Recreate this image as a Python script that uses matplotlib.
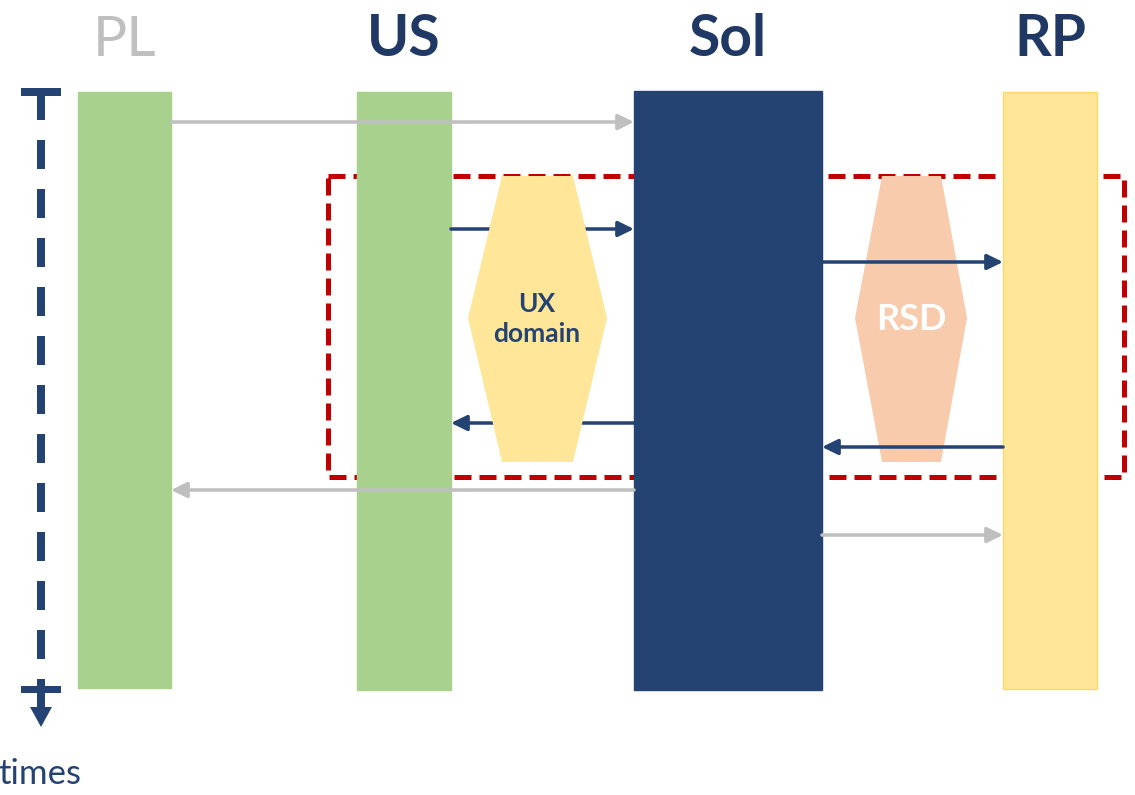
import matplotlib.pyplot as plt
from matplotlib.patches import Rectangle, Polygon

plt.rcParams['font.family'] = ['Lato', 'DejaVu Sans']

# lanes of the sequence diagram
lanes = ['PL', 'US', 'Sol', 'RP']
lane_left = [78, 357, 634, 1003]
lane_right = [171, 451, 822, 1097]
lane_top = [92, 92, 91, 92]
lane_bottom = [688, 690, 690, 689]
lane_fill = ['#A9D18E', '#A9D18E', '#254372', '#FFE699']
lane_edge = ['#A9D18E', '#A9D18E', '#254372', '#FFD966']
title_color = ['#BFBFBF', '#203864', '#203864', '#203864']
title_weight = ['normal', 'bold', 'bold', 'bold']

# messages: sender, receiver, time (y), colour
msg_from = ['PL', 'US', 'Sol', 'Sol', 'RP', 'Sol', 'Sol']
msg_to = ['Sol', 'Sol', 'RP', 'US', 'Sol', 'PL', 'RP']
msg_y = [122, 229, 262, 423, 447, 490, 535]
msg_color = ['#BFBFBF', '#254372', '#254372', '#254372', '#254372', '#BFBFBF', '#BFBFBF']

navy = '#254372'

fig = plt.figure(figsize=(11.35, 7.95), dpi=100)
ax = fig.add_axes([0, 0, 1, 1])
ax.set_xlim(0, 1135)
ax.set_ylim(795, 0)
ax.axis('off')

px = 72 / 100  # points per pixel

# dashed red box (behind the lanes)
ax.plot([328, 1124, 1124, 328, 328], [176, 176, 477, 477, 176],
        color='#C00000', lw=5 * px, linestyle=(0, (3.4, 1.6)),
        solid_joinstyle='miter', zorder=1)

# lanes
for i, name in enumerate(lanes):
    ax.add_patch(Rectangle((lane_left[i], lane_top[i]), lane_right[i] - lane_left[i],
                           lane_bottom[i] - lane_top[i], facecolor=lane_fill[i],
                           edgecolor=lane_edge[i], lw=1.0, zorder=2))
    ax.text((lane_left[i] + lane_right[i]) / 2, 40, name, ha='center', va='center',
            fontsize=41, color=title_color[i], fontweight=title_weight[i])

# RSD hexagon sits below the arrows
rsd = Polygon([(882, 176), (941, 176), (967, 318), (941, 462), (882, 462), (855, 318)],
              closed=True, facecolor='#F8CBAD', edgecolor='none', zorder=2.5)
ax.add_patch(rsd)
ax.text(911, 320, 'RSD', ha='center', va='center', fontsize=26,
        fontweight='bold', color='white', zorder=2.6)

# arrows
for s, r, y, c in zip(msg_from, msg_to, msg_y, msg_color):
    i, j = lanes.index(s), lanes.index(r)
    if i < j:
        x0, x1 = lane_right[i], lane_left[j]
    else:
        x0, x1 = lane_left[i], lane_right[j]
    ax.annotate('', xy=(x1, y), xytext=(x0, y),
                arrowprops=dict(arrowstyle='-|>,head_length=0.45,head_width=0.22',
                                color=c, lw=3.5 * px, mutation_scale=21,
                                shrinkA=0, shrinkB=0),
                zorder=3)

# UX hexagon sits above the arrows
ux = Polygon([(502, 176), (573, 176), (607, 318), (573, 462), (502, 462), (468, 318)],
             closed=True, facecolor='#FFE699', edgecolor='none', zorder=4)
ax.add_patch(ux)
ax.text(537, 319, 'UX\ndomain', ha='center', va='center', fontsize=19,
        fontweight='bold', color=navy, linespacing=1.25, zorder=5)

# time axis
ax.plot([41, 41], [96, 686], color=navy, lw=8 * px,
        linestyle=(5 / 8, (29 / 8, 20 / 8)), solid_capstyle='butt',
        dash_capstyle='butt', zorder=3)
ax.add_patch(Rectangle((21, 88), 40, 8, facecolor=navy, edgecolor='none', zorder=3))
ax.add_patch(Rectangle((21, 686), 40, 7, facecolor=navy, edgecolor='none', zorder=3))
ax.add_patch(Rectangle((37, 693), 8, 15, facecolor=navy, edgecolor='none', zorder=3))
ax.add_patch(Polygon([(30, 707), (52, 707), (41, 727)], closed=True,
                     facecolor=navy, edgecolor='none', zorder=3))
ax.text(-2, 774, 'times', ha='left', va='center', fontsize=25, color=navy)

fig.savefig('out.png', dpi=100)
